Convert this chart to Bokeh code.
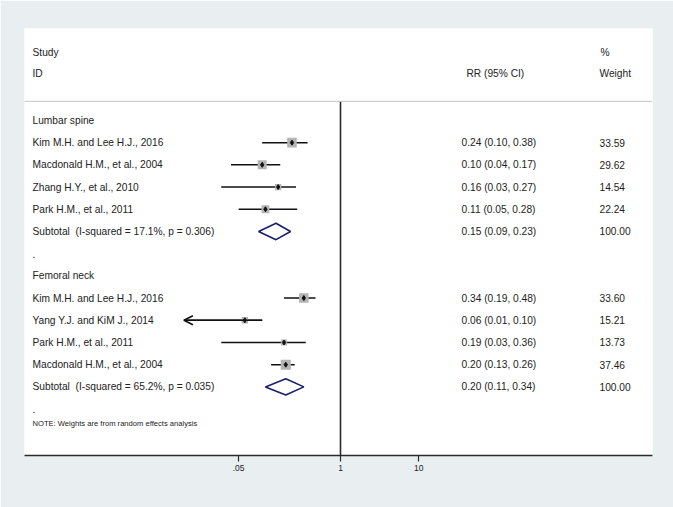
import math
from bokeh.plotting import figure
from bokeh.models import Range1d, FixedTicker, Span, Arrow, OpenHead, ColumnDataSource
from bokeh.core.properties import value
from bokeh.embed import file_html
from bokeh.resources import INLINE

# ---------------- data ----------------
group_names = ["Lumbar spine", "Femoral neck"]

lumbar_studies = ["Kim M.H. and Lee H.J., 2016", "Macdonald H.M., et al., 2004",
                  "Zhang H.Y., et al., 2010", "Park H.M., et al., 2011"]
lumbar_rr = [0.24, 0.10, 0.16, 0.11]
lumbar_lo = [0.10, 0.04, 0.03, 0.05]
lumbar_hi = [0.38, 0.17, 0.27, 0.28]
lumbar_wt = [33.59, 29.62, 14.54, 22.24]

femoral_studies = ["Kim M.H. and Lee H.J., 2016", "Yang Y.J. and KiM J., 2014",
                   "Park H.M., et al., 2011", "Macdonald H.M., et al., 2004"]
femoral_rr = [0.34, 0.06, 0.19, 0.20]
femoral_lo = [0.19, 0.01, 0.03, 0.13]
femoral_hi = [0.48, 0.10, 0.36, 0.26]
femoral_wt = [33.60, 15.21, 13.73, 37.46]

subtotal_labels = ["Subtotal\u00a0 (I-squared = 17.1%, p = 0.306)",
                   "Subtotal\u00a0 (I-squared = 65.2%, p = 0.035)"]
subtotal_rr = [0.15, 0.20]
subtotal_lo = [0.09, 0.11]
subtotal_hi = [0.23, 0.34]
subtotal_wt = [100.00, 100.00]

tick_values = [0.05, 1, 10]
tick_labels = [".05", "1", "10"]
note_text = "NOTE: Weights are from random effects analysis"
clip_lo = 0.01

# ---------------- layout helpers ----------------
PX_PER_DEC = 78.3
FRAME_L, FRAME_R, X_ONE = 24, 652, 340     # page px
def px2x(px):
    return 10 ** ((px - X_ONE) / PX_PER_DEC)

COL_STUDY = px2x(32)
COL_RR = px2x(461)
COL_WT = px2x(599)

TXT = "#222222"
FONT = "Liberation Sans"
BG = "#e9eff1"
FS = "10.2px"

p = figure(width=673, height=507, x_axis_type="log",
           x_range=Range1d(px2x(FRAME_L), px2x(FRAME_R)),
           y_range=Range1d(15.09, -4.14),
           output_backend="svg", toolbar_location=None,
           y_axis_location=None, min_border_left=24, min_border_right=21,
           min_border_top=28, min_border_bottom=52)
p.border_fill_color = BG
p.background_fill_color = "white"
p.outline_line_color = None
p.grid.visible = False

# build rows
rows_txt_y, rows_txt = [], []
st_y, st_rr, st_lo, st_hi, st_wt = [], [], [], [], []
sub_y = []
rr_col_y, rr_col_txt, wt_col_txt = [], [], []

groups = [(lumbar_studies, lumbar_rr, lumbar_lo, lumbar_hi, lumbar_wt),
          (femoral_studies, femoral_rr, femoral_lo, femoral_hi, femoral_wt)]
r = 0
for gi, (names, rr, lo, hi, wt) in enumerate(groups):
    rows_txt.append(group_names[gi]); rows_txt_y.append(r); r += 1
    for n, a, l, h, w in zip(names, rr, lo, hi, wt):
        rows_txt.append(n); rows_txt_y.append(r)
        st_y.append(r); st_rr.append(a); st_lo.append(l); st_hi.append(h); st_wt.append(w)
        rr_col_y.append(r); rr_col_txt.append(f"{a:.2f} ({l:.2f}, {h:.2f})"); wt_col_txt.append(f"{w:.2f}")
        r += 1
    rows_txt.append(subtotal_labels[gi]); rows_txt_y.append(r)
    sub_y.append(r)
    rr_col_y.append(r)
    rr_col_txt.append(f"{subtotal_rr[gi]:.2f} ({subtotal_lo[gi]:.2f}, {subtotal_hi[gi]:.2f})")
    wt_col_txt.append(f"{subtotal_wt[gi]:.2f}")
    r += 1
    rows_txt.append("."); rows_txt_y.append(r); r += 1

# header line and null line
p.add_layout(Span(location=-0.86, dimension="width", line_color="#c4c4c4", line_width=1))
p.segment(x0=[1], y0=[-0.86], x1=[1], y1=[15.09], line_color="#2a2a2a", line_width=1.6)

# texts
def txt(xs, ys, ts, size=FS, align="left"):
    p.text(x=xs, y=ys, text=ts, text_font=value(FONT), text_font_size=size,
           text_color=TXT, text_baseline="middle", text_align=align)

txt([COL_STUDY] * len(rows_txt), rows_txt_y, rows_txt)
txt([COL_STUDY, COL_STUDY], [-3.06, -2.12], ["Study", "ID"])
txt([px2x(600), COL_WT], [-3.06, -2.12], ["%", "Weight"])
txt([px2x(466)], [-2.12], ["RR (95% CI)"])
txt([COL_RR] * len(rr_col_y), rr_col_y, rr_col_txt)
txt([COL_WT] * len(rr_col_y), rr_col_y, wt_col_txt)
txt([COL_STUDY], [13.65], [note_text], size="7.6px")

# study CIs, boxes, points
src = ColumnDataSource(dict(y=st_y, rr=st_rr, lo=[max(l, clip_lo) for l in st_lo], hi=st_hi,
                            bsize=[1.65 * math.sqrt(w) for w in st_wt]))
p.segment(x0="lo", y0="y", x1="hi", y1="y", source=src, line_color="#111111", line_width=1.5)
p.scatter(x="rr", y="y", size="bsize", marker="square", source=src,
          fill_color="#b4b4b4", line_color=None)
p.scatter(x="rr", y="y", size=5, marker="diamond", source=src,
          fill_color="#111111", line_color="#111111")
for y, l, h in zip(st_y, st_lo, st_hi):
    if l <= clip_lo:
        p.add_layout(Arrow(end=OpenHead(size=9, line_width=1.5, line_color="#111111"),
                           x_start=h, y_start=y, x_end=clip_lo, y_end=y,
                           line_color="#111111", line_width=1.5))

# subtotal diamonds
h = 0.37
xs = [[l, a, hh, a] for a, l, hh in zip(subtotal_rr, subtotal_lo, subtotal_hi)]
ys = [[y, y - h, y, y + h] for y in sub_y]
p.patches(xs=xs, ys=ys, fill_color="white", line_color="#1b1f6b", line_width=1.6)

# axis
ax = p.xaxis[0]
ax.ticker = FixedTicker(ticks=tick_values, minor_ticks=[])
ax.major_label_overrides = {v: t for v, t in zip(tick_values, tick_labels)}
ax.axis_line_color = "#2a2a2a"
ax.axis_line_width = 1.5
ax.major_tick_line_color = "#2a2a2a"
ax.major_tick_line_width = 1.2
ax.major_tick_out = 6
ax.major_tick_in = 0
ax.minor_tick_line_color = None
ax.major_label_text_font = FONT
ax.major_label_text_font_size = "8.5px"
ax.major_label_text_color = TXT
ax.major_label_standoff = 3

open("out.html", "w").write(file_html(p, INLINE))
